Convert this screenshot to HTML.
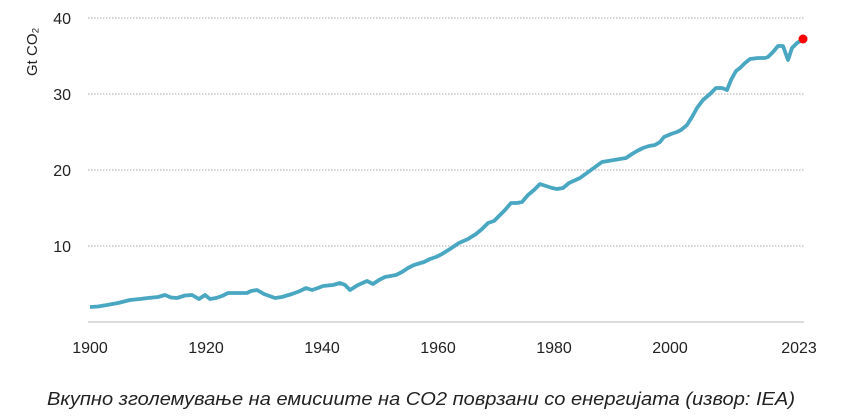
<!DOCTYPE html>
<html><head><meta charset="utf-8"><style>
body{margin:0;background:#fff;width:851px;height:418px;overflow:hidden}
svg{display:block}
text{font-family:"Liberation Sans",sans-serif;fill:#222}
</style></head><body>
<svg width="851" height="418" viewBox="0 0 851 418">
<g stroke="#bbb" stroke-width="1.3" stroke-dasharray="1.5 1.5">
<line x1="88" y1="18" x2="804" y2="18"/>
<line x1="88" y1="94" x2="804" y2="94"/>
<line x1="88" y1="170" x2="804" y2="170"/>
<line x1="88" y1="246" x2="804" y2="246"/>
</g>
<line x1="88" y1="322" x2="804" y2="322" stroke="#d0d0d0" stroke-width="1.5"/>
<g font-size="16" text-anchor="end">
<text x="71" y="24">40</text><text x="71" y="100">30</text><text x="71" y="176">20</text><text x="71" y="252">10</text>
</g>
<text font-size="15" transform="translate(37,76) rotate(-90)">Gt CO₂</text>
<g font-size="16" text-anchor="middle">
<text x="90" y="353">1900</text><text x="206" y="353">1920</text><text x="322" y="353">1940</text><text x="438" y="353">1960</text><text x="554" y="353">1980</text><text x="670" y="353">2000</text><text x="799" y="353">2023</text>
</g>
<polyline fill="none" stroke="#4aa7c2" stroke-width="3.8" stroke-linejoin="round" points="90,307 98,306.5 107,305 118,303 130,300 140,299 148,298 158,297 165,295 171,297.5 177,298 185,295.5 192,295 199,299 205,295 210,299 216,298 222,296 228,293 240,293 247,293 251,291 257,290 264,294 275,298 282,297 292,294 300,291 306,288 312,290 318,288 323,286 333,285 340,283 345,285 350,290 358,285 367,281 373,284 379,280 385,277 396,275 402,272 408,268 414,265 424,262 430,259 436,257 442,254 450,249 459,243 468,239 476,234 482,229 488,223 494,221 499,216 505,210 511,203 517,203 522,202 528,195 534,190 540,184 546,186 552,188 557,189 563,188 569,183 580,178 591,170 602,162 614,160 626,158 632,154 637,151 643,148 649,146 655,145 660,142 664,137 671,134 677,132 681,130 687,125 692,117 697,108 703,100 710,94 716,88 722,88 727,90 731,80 736,71 740,68 745,63 750,59 758,58 765,58 768,57 773,52 778,46 783,46 788,60 792,48 797,43 803,39"/>
<circle cx="803" cy="39" r="4.5" fill="#ff0000"/>
<text x="47" y="405" font-size="18.5" font-style="italic" textLength="748" lengthAdjust="spacingAndGlyphs" fill="#000">Вкупно зголемување на емисиите на CO2 поврзани со енергијата (извор: IEA)</text>
</svg>
</body></html>
